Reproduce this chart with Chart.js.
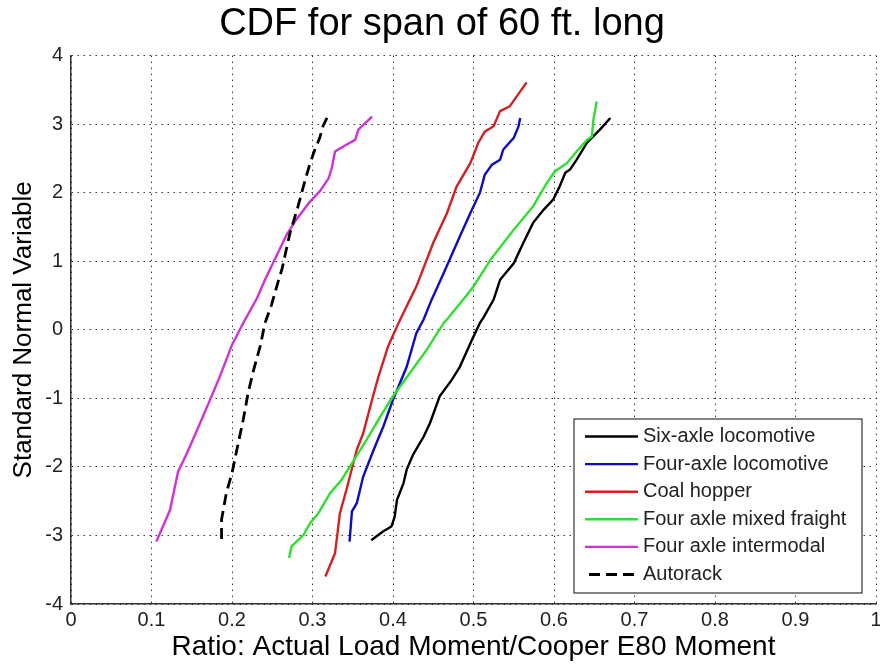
<!DOCTYPE html>
<html>
<head>
<meta charset="utf-8">
<title>CDF for span of 60 ft. long</title>
<script src="https://cdn.jsdelivr.net/npm/chart.js@4"></script>
<style>
  body { margin: 0; background: #fff; }
  canvas { display: block; }
</style>
</head>
<body>
<canvas id="grafico" width="880" height="668"></canvas>
<script>
// valores (razão x, variável normal y)
var seisEixosX = [0.373, 0.388, 0.398, 0.402, 0.405, 0.413, 0.417, 0.425, 0.438, 0.446, 0.458, 0.473, 0.483, 0.498, 0.508, 0.512, 0.525, 0.533, 0.550, 0.562, 0.574, 0.587, 0.599, 0.607, 0.614, 0.620, 0.628, 0.641, 0.657, 0.670];
var seisEixosY = [-3.07, -2.94, -2.87, -2.73, -2.48, -2.24, -2.04, -1.82, -1.56, -1.36, -0.97, -0.73, -0.54, -0.15, 0.10, 0.17, 0.44, 0.73, 0.97, 1.27, 1.56, 1.75, 1.90, 2.09, 2.29, 2.34, 2.48, 2.73, 2.92, 3.09];

var quatroEixosX = [0.346, 0.349, 0.355, 0.363, 0.376, 0.388, 0.400, 0.417, 0.429, 0.438, 0.448, 0.463, 0.483, 0.496, 0.508, 0.514, 0.523, 0.533, 0.537, 0.550, 0.556, 0.558];
var quatroEixosY = [-3.09, -2.65, -2.53, -2.14, -1.75, -1.41, -1.02, -0.54, -0.05, 0.15, 0.44, 0.83, 1.36, 1.70, 2.00, 2.26, 2.41, 2.48, 2.63, 2.80, 2.97, 3.09];

var carvaoX = [0.316, 0.328, 0.334, 0.342, 0.355, 0.363, 0.374, 0.382, 0.394, 0.405, 0.409, 0.421, 0.429, 0.450, 0.467, 0.479, 0.496, 0.506, 0.514, 0.525, 0.533, 0.545, 0.566];
var carvaoY = [-3.60, -3.26, -2.68, -2.34, -1.75, -1.51, -1.02, -0.68, -0.24, 0.05, 0.15, 0.44, 0.63, 1.27, 1.70, 2.09, 2.43, 2.73, 2.89, 2.97, 3.19, 3.26, 3.61];

var mistoX = [0.271, 0.274, 0.289, 0.297, 0.307, 0.322, 0.336, 0.349, 0.367, 0.384, 0.400, 0.421, 0.442, 0.463, 0.467, 0.487, 0.500, 0.521, 0.550, 0.574, 0.591, 0.601, 0.616, 0.628, 0.641, 0.647, 0.649, 0.653];
var mistoY = [-3.33, -3.16, -2.99, -2.82, -2.68, -2.38, -2.19, -1.95, -1.61, -1.27, -0.97, -0.63, -0.29, 0.10, 0.15, 0.44, 0.63, 1.02, 1.46, 1.80, 2.14, 2.31, 2.43, 2.60, 2.77, 2.82, 3.07, 3.33];

var intermodalX = [0.106, 0.123, 0.133, 0.144, 0.156, 0.171, 0.185, 0.200, 0.214, 0.231, 0.241, 0.268, 0.280, 0.297, 0.309, 0.320, 0.324, 0.328, 0.342, 0.353, 0.357, 0.374];
var intermodalY = [-3.09, -2.63, -2.07, -1.80, -1.48, -1.07, -0.68, -0.22, 0.10, 0.46, 0.73, 1.39, 1.61, 1.87, 2.02, 2.21, 2.36, 2.60, 2.70, 2.77, 2.92, 3.11];

var autorackX = [0.187, 0.187, 0.193, 0.200, 0.206, 0.214, 0.220, 0.227, 0.235, 0.241, 0.249, 0.258, 0.262, 0.272, 0.282, 0.291, 0.297, 0.303, 0.309, 0.313, 0.318];
var autorackY = [-3.05, -2.77, -2.38, -2.09, -1.75, -1.31, -0.92, -0.58, -0.24, 0.10, 0.36, 0.73, 0.88, 1.41, 1.80, 2.19, 2.43, 2.63, 2.80, 2.97, 3.09];

var nomesSeries = ['Six-axle locomotive', 'Four-axle locomotive', 'Coal hopper', 'Four axle mixed fraight', 'Four axle intermodal', 'Autorack'];
var ticksX = ['0', '0.1', '0.2', '0.3', '0.4', '0.5', '0.6', '0.7', '0.8', '0.9', '1'];
var ticksY = ['-4', '-3', '-2', '-1', '0', '1', '2', '3', '4'];

var fonte = "'Liberation Sans', Arial, sans-serif";

function pontos(xs, ys) {
    return xs.map(function(x, i) { return { x: x, y: ys[i] }; });
}

var cores = ['#000000', '#0c0cc4', '#d42020', '#2ee02e', '#d030d8', '#000000'];
var series = [
    pontos(seisEixosX, seisEixosY),
    pontos(quatroEixosX, quatroEixosY),
    pontos(carvaoX, carvaoY),
    pontos(mistoX, mistoY),
    pontos(intermodalX, intermodalY),
    pontos(autorackX, autorackY)
];

var datasets = series.map(function(dados, i) {
    return {
        label: nomesSeries[i],
        data: dados,
        showLine: true,
        borderColor: cores[i],
        backgroundColor: cores[i],
        borderWidth: i === 5 ? 2.8 : 2.4,
        borderDash: i === 5 ? [11, 6] : [],
        pointRadius: 0,
        tension: 0,
        order: 5 - i
    };
});

// legenda desenhada dentro da área do gráfico, como no MATLAB
var legendaInterna = {
    id: 'legendaInterna',
    afterDatasetsDraw: function(chart) {
        var ctx = chart.ctx;
        var a = chart.chartArea;
        var x0 = a.right - 302, y0 = a.bottom - 185, w = 288, h = 174;
        ctx.save();
        ctx.fillStyle = '#fff';
        ctx.fillRect(x0, y0, w, h);
        ctx.strokeStyle = '#333';
        ctx.lineWidth = 1.2;
        ctx.strokeRect(x0, y0, w, h);
        ctx.font = '20px ' + fonte;
        ctx.textBaseline = 'middle';
        chart.data.datasets.forEach(function(ds, i) {
            var y = y0 + 17.5 + i * 27.6;
            ctx.strokeStyle = ds.borderColor;
            ctx.lineWidth = ds.borderWidth;
            ctx.setLineDash(ds.borderDash);
            ctx.beginPath();
            ctx.moveTo(x0 + (i === 5 ? 15 : 11), y);
            ctx.lineTo(x0 + 64, y);
            ctx.stroke();
            ctx.setLineDash([]);
            ctx.fillStyle = '#222';
            ctx.fillText(ds.label, x0 + 69, y);
        });
        ctx.restore();
    }
};

new Chart(document.getElementById('grafico').getContext('2d'), {
    type: 'scatter',
    data: { datasets: datasets },
    options: {
        responsive: false,
        animation: false,
        layout: { padding: { left: 4, right: 0, top: 0, bottom: 0 } },
        plugins: {
            legend: { display: false },
            tooltip: { enabled: false },
            title: {
                display: true,
                text: 'CDF for span of 60 ft. long',
                color: '#000',
                font: { family: fonte, size: 38, weight: 'normal' },
                padding: { top: 2, bottom: 8 }
            }
        },
        scales: {
            x: {
                type: 'linear',
                min: 0,
                max: 1,
                afterBuildTicks: function(scale) {
                    scale.ticks = ticksX.map(function(t) { return { value: parseFloat(t) }; });
                },
                afterFit: function(scale) {
                    scale.height = 64;
                    scale.paddingRight = 4; // deixa o "1" encostar na borda, como no original
                },
                ticks: {
                    color: '#222',
                    font: { family: fonte, size: 20 },
                    padding: 4,
                    maxRotation: 0,
                    callback: function(v, i) { return ticksX[i]; }
                },
                grid: { color: '#333', lineWidth: 1, drawTicks: false },
                border: { display: true, color: '#333', width: 1.5, dash: [1.5, 4.5] },
                title: {
                    display: true,
                    text: 'Ratio: Actual Load Moment/Cooper E80 Moment',
                    color: '#000',
                    font: { family: fonte, size: 28 },
                    padding: { top: 0, bottom: 4 }
                }
            },
            y: {
                type: 'linear',
                min: -4,
                max: 4,
                afterBuildTicks: function(scale) {
                    scale.ticks = ticksY.map(function(t) { return { value: parseFloat(t) }; });
                },
                afterFit: function(scale) { scale.width = 67; },
                ticks: {
                    color: '#222',
                    font: { family: fonte, size: 20 },
                    padding: 8,
                    callback: function(v, i) { return ticksY[i]; }
                },
                grid: { color: '#333', lineWidth: 1, drawTicks: false },
                border: { display: true, color: '#333', width: 1.5, dash: [1.5, 4.5] },
                title: {
                    display: true,
                    text: 'Standard Normal Variable',
                    color: '#000',
                    font: { family: fonte, size: 26 },
                    padding: { top: 4, bottom: 0 }
                }
            }
        }
    },
    plugins: [legendaInterna]
});
</script>
</body>
</html>
